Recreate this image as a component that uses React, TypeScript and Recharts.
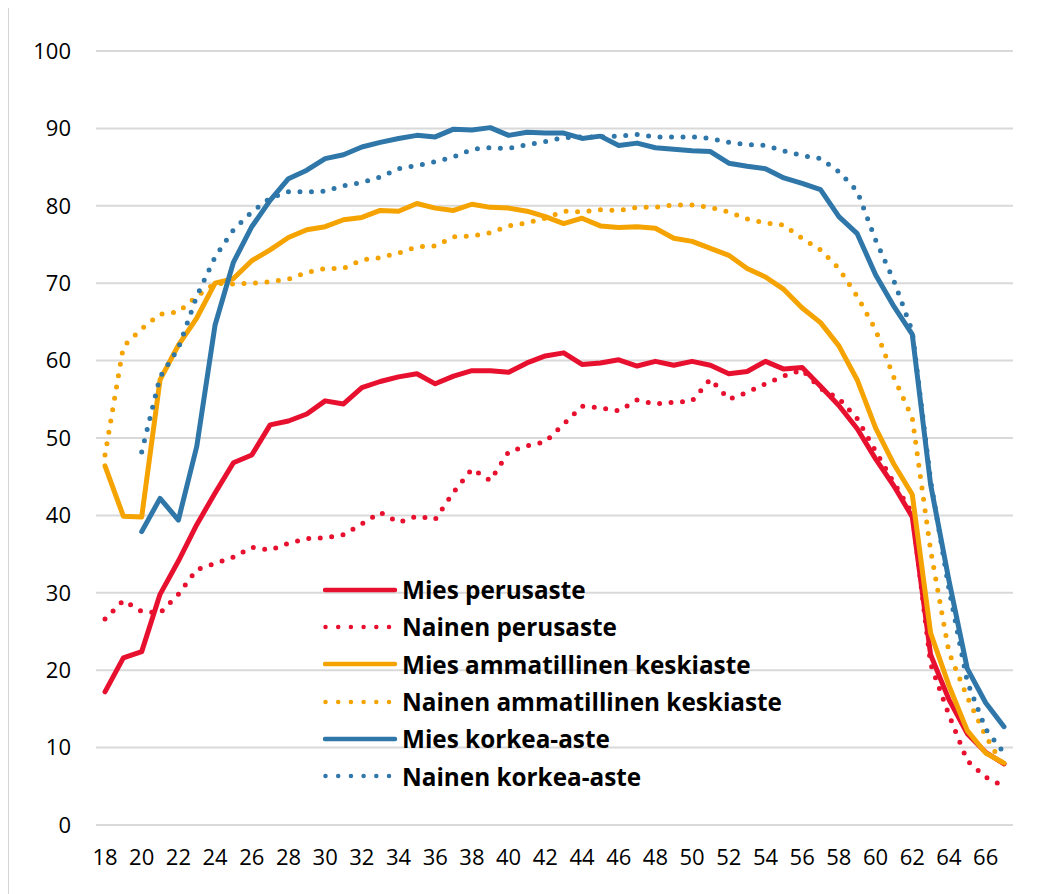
import React from 'react';
import { LineChart, Line, XAxis, YAxis, CartesianGrid, Legend } from 'recharts';

const ages = [18, 19, 20, 21, 22, 23, 24, 25, 26, 27, 28, 29, 30, 31, 32, 33, 34, 35, 36, 37, 38, 39, 40, 41, 42, 43, 44, 45, 46, 47, 48, 49, 50, 51, 52, 53, 54, 55, 56, 57, 58, 59, 60, 61, 62, 63, 64, 65, 66, 67];

const miesPerusaste = [17.2, 21.6, 22.4, 29.8, 34.1, 38.8, 42.9, 46.8, 47.8, 51.7, 52.2, 53.1, 54.8, 54.4, 56.5, 57.3, 57.9, 58.3, 57.0, 58.0, 58.7, 58.7, 58.5, 59.7, 60.6, 61.0, 59.5, 59.7, 60.1, 59.3, 59.9, 59.4, 59.9, 59.4, 58.3, 58.6, 59.9, 58.9, 59.1, 56.7, 54.2, 51.2, 47.3, 43.8, 39.8, 22.0, 16.2, 11.8, 9.4, 7.9];
const nainenPerusaste = [26.6, 29.0, 27.6, 27.4, 29.8, 33.0, 33.8, 34.6, 35.9, 35.5, 36.4, 37.0, 37.1, 37.5, 38.9, 40.4, 39.1, 39.9, 39.5, 43.0, 46.0, 44.5, 48.2, 49.0, 49.5, 51.8, 54.1, 53.9, 53.5, 54.9, 54.4, 54.6, 54.8, 57.6, 55.0, 55.9, 57.0, 58.0, 58.8, 56.4, 55.1, 52.5, 48.3, 44.2, 40.3, 20.8, 14.2, 8.3, 6.2, 5.0];
const miesAmmatillinen = [46.4, 39.9, 39.8, 57.5, 62.0, 65.5, 70.0, 70.6, 72.9, 74.3, 75.9, 76.9, 77.3, 78.2, 78.5, 79.4, 79.3, 80.3, 79.7, 79.4, 80.2, 79.8, 79.7, 79.3, 78.6, 77.7, 78.4, 77.4, 77.2, 77.3, 77.1, 75.8, 75.4, 74.5, 73.6, 71.9, 70.8, 69.2, 66.8, 64.9, 61.9, 57.5, 51.3, 46.6, 42.7, 24.8, 18.0, 12.2, 9.3, 8.0];
const nainenAmmatillinen = [47.8, 61.8, 64.1, 66.0, 66.3, 68.3, 70.0, 69.9, 70.0, 70.2, 70.5, 71.4, 71.9, 71.9, 73.0, 73.3, 73.9, 74.7, 74.8, 76.0, 76.1, 76.5, 77.4, 77.8, 78.4, 79.3, 79.2, 79.5, 79.4, 79.8, 79.8, 80.1, 80.1, 79.8, 79.2, 78.3, 77.8, 77.5, 75.8, 74.3, 71.9, 68.3, 64.0, 57.8, 52.6, 35.5, 22.3, 16.5, 11.5, 7.5];
const miesKorkea = [null, null, 37.9, 42.2, 39.4, 48.9, 64.6, 72.7, 77.3, 80.7, 83.5, 84.6, 86.1, 86.6, 87.6, 88.2, 88.7, 89.1, 88.9, 89.9, 89.8, 90.1, 89.1, 89.5, 89.4, 89.4, 88.7, 89.0, 87.8, 88.1, 87.5, 87.3, 87.1, 87.0, 85.5, 85.1, 84.8, 83.6, 82.9, 82.1, 78.6, 76.4, 71.1, 67.0, 63.4, 44.0, 31.6, 20.2, 15.8, 12.7];
const nainenKorkea = [null, null, 48.2, 57.9, 61.6, 68.3, 73.4, 76.9, 79.2, 81.0, 81.8, 81.8, 81.9, 82.6, 83.0, 83.7, 84.8, 85.2, 85.7, 86.3, 87.3, 87.5, 87.4, 87.9, 88.3, 88.8, 88.9, 88.9, 89.0, 89.2, 88.9, 88.9, 88.9, 88.7, 88.2, 87.9, 87.8, 87.1, 86.5, 86.1, 84.4, 81.9, 75.6, 70.3, 63.8, 44.5, 30.5, 18.5, 12.4, 9.3];

const yTicks = [0, 10, 20, 30, 40, 50, 60, 70, 80, 90, 100];

const RED = '#E8102F';
const ORANGE = '#F5A300';
const BLUE = '#2F76A9';

const data = ages.map((age, i) => ({
  age,
  mp: miesPerusaste[i],
  np: nainenPerusaste[i],
  ma: miesAmmatillinen[i],
  na: nainenAmmatillinen[i],
  mk: miesKorkea[i],
  nk: nainenKorkea[i],
}));

const series = [
  { key: 'mp', name: 'Mies perusaste', color: RED, dotted: false },
  { key: 'np', name: 'Nainen perusaste', color: RED, dotted: true },
  { key: 'ma', name: 'Mies ammatillinen keskiaste', color: ORANGE, dotted: false },
  { key: 'na', name: 'Nainen ammatillinen keskiaste', color: ORANGE, dotted: true },
  { key: 'mk', name: 'Mies korkea-aste', color: BLUE, dotted: false },
  { key: 'nk', name: 'Nainen korkea-aste', color: BLUE, dotted: true },
];

const LegendContent = () => (
  <div style={{ fontFamily: 'Open Sans', fontWeight: 700, fontSize: 24.3, color: '#000' }}>
    {series.map((s) => (
      <div key={s.key} style={{ display: 'flex', alignItems: 'center', height: 37.3 }}>
        <svg width={79} height={20} style={{ display: 'block', flex: 'none' }}>
          {s.dotted ? (
            <line x1={2.5} y1={10} x2={76} y2={10} stroke={s.color} strokeWidth={4.5} strokeLinecap="round" strokeDasharray="0 12.7" />
          ) : (
            <line x1={2} y1={10} x2={72} y2={10} stroke={s.color} strokeWidth={4.5} strokeLinecap="round" />
          )}
        </svg>
        <span style={{ whiteSpace: 'nowrap', lineHeight: '37px' }}>{s.name}</span>
      </div>
    ))}
  </div>
);

const tickStyle = { fontFamily: 'Open Sans', fontSize: 22, fill: '#000' };

export default function App() {
  return (
    <div style={{ position: 'relative', width: 1052, height: 889, marginTop: -3, marginLeft: -2 }}>
      <div style={{ position: 'absolute', left: 0, top: 0 }}>
        <LineChart width={1050} height={889} data={data} margin={{ top: 46, right: 43, left: 20, bottom: 29 }}>
          <CartesianGrid vertical={false} stroke="#d9d9d9" strokeWidth={2} />
          <XAxis
            dataKey="age"
            type="category"
            interval={1}
            padding={{ left: 9, right: 9 }}
            axisLine={false}
            tickLine={false}
            tickSize={0}
            tickMargin={24}
            height={40}
            tick={tickStyle}
          />
          <YAxis
            domain={[0, 100]}
            ticks={yTicks}
            interval={0}
            axisLine={false}
            tickLine={false}
            tickSize={0}
            tickMargin={25}
            width={70}
            tick={tickStyle}
          />
          <Legend
            layout="vertical"
            align="center"
            verticalAlign="middle"
            content={LegendContent}
            wrapperStyle={{ position: 'absolute', left: 317, top: 566, width: 580, height: 230 }}
          />
          {series.map((s) => (
            <Line
              key={s.key}
              dataKey={s.key}
              name={s.name}
              type="linear"
              stroke={s.color}
              strokeWidth={5}
              strokeDasharray={s.dotted ? '0 11.5' : undefined}
              strokeLinecap="round"
              strokeLinejoin="round"
              dot={false}
              activeDot={false}
              isAnimationActive={false}
            />
          ))}
        </LineChart>
      </div>
      <div
        style={{
          position: 'absolute',
          left: 0,
          top: 0,
          width: 1060,
          height: 895,
          borderLeft: '3px solid #d4d4d4',
          borderTop: '3px solid #d4d4d4',
          boxSizing: 'border-box',
          pointerEvents: 'none',
          zIndex: 10,
        }}
      />
    </div>
  );
}
